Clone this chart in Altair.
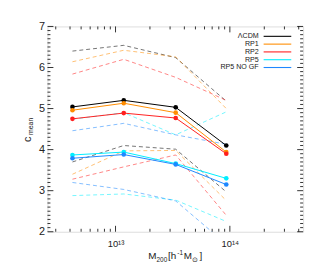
import altair as alt
import pandas as pd

# ---------------- data ----------------
models = ["ΛCDM", "RP1", "RP2", "RP5", "RP5 NO GF"]
colors = ["#000000", "#ff8c00", "#ff1f1f", "#00eeff", "#1e88ff"]
mass = [4.2e12, 1.18e13, 3.36e13, 9.3e13]

lcdm_mean = [5.04, 5.20, 5.03, 4.10]
rp1_mean = [4.96, 5.13, 4.90, 3.94]
rp2_mean = [4.75, 4.89, 4.77, 3.90]
rp5_mean = [3.87, 3.94, 3.66, 3.30]
nogf_mean = [3.79, 3.88, 3.64, 3.15]

lcdm_hi = [6.40, 6.54, 6.24, 5.18]
rp1_hi = [6.14, 6.42, 6.26, 5.00]
rp2_hi = [5.84, 6.20, 5.76, 5.20]
rp5_hi = [4.74, 4.90, 4.36, 4.92]
nogf_hi = [4.46, 4.64, 4.36, 4.13]

lcdm_lo = [3.70, 4.10, 4.01, 2.97]
rp1_lo = [3.40, 3.97, 3.98, 2.76]
rp2_lo = [3.28, 3.58, 3.87, 2.40]
rp5_lo = [2.88, 2.92, 2.77, 2.25]
nogf_lo = [3.20, 3.03, 2.75, 1.70]

y_labels = [2, 3, 4, 5, 6, 7]
x_labels = [1e13, 1e14]

means = [lcdm_mean, rp1_mean, rp2_mean, rp5_mean, nogf_mean]
his = [lcdm_hi, rp1_hi, rp2_hi, rp5_hi, nogf_hi]
los = [lcdm_lo, rp1_lo, rp2_lo, rp5_lo, nogf_lo]

rows_mean, rows_band = [], []
for i, m in enumerate(models):
    for j, x in enumerate(mass):
        rows_mean.append({"model": m, "mass": x, "c": means[i][j], "k": i})
        rows_band.append({"model": m, "mass": x, "c": his[i][j], "series": m + " hi", "k": i})
        rows_band.append({"model": m, "mass": x, "c": los[i][j], "series": m + " lo", "k": i})
df_mean = pd.DataFrame(rows_mean)
df_band = pd.DataFrame(rows_band)

y_minor = [round(2 + 0.1 * k, 2) for k in range(51) if k % 10 != 0]
x_minor = [a * 10 ** e for e in (12, 13, 14) for a in range(2, 10)
           if 2.54e12 < a * 10 ** e < 4.37e14]

W, H = 259, 208
FONT = "Liberation Sans"

xscale = alt.Scale(type="log", domain=[2.54e12, 4.37e14], nice=False)
yscale = alt.Scale(domain=[2, 7], nice=False)
xaxis = alt.Axis(values=x_labels, labelExpr="datum.value < 5e13 ? '10¹³' : '10¹⁴'",
                 ticks=False, domain=False, grid=False, title=None,
                 labelFont=FONT, labelFontSize=9.5, labelPadding=7, labelColor="#222")
yaxis = alt.Axis(values=y_labels, format="d", ticks=False, domain=False, grid=False,
                 title=None, labelFont=FONT, labelFontSize=11, labelPadding=3,
                 labelColor="#222")
X = alt.X("mass:Q", scale=xscale, axis=xaxis)
Y = alt.Y("c:Q", scale=yscale, axis=yaxis)
cscale = alt.Scale(domain=models, range=colors)
C = alt.Color("model:N", scale=cscale, legend=None)

dashed = alt.Chart(df_band).mark_line(strokeWidth=1, strokeDash=[4, 3], opacity=0.55,
                                      clip=True).encode(
    x=X, y=Y, color=C, detail="series:N", order="k:Q")
solid = alt.Chart(df_mean).mark_line(strokeWidth=1, clip=True).encode(
    x=X, y=Y, color=C, detail="model:N")
points = alt.Chart(df_mean).mark_circle(size=22, opacity=1).encode(
    x=X, y=Y, color=C, order="k:Q")

# inward ticks on all four sides
ymaj = pd.DataFrame({"c": y_labels})
ymin = pd.DataFrame({"c": y_minor})
xmaj = pd.DataFrame({"mass": x_labels})
xmin = pd.DataFrame({"mass": x_minor})
tk = dict(color="#000", strokeWidth=0.8)
ticks = [
    alt.Chart(ymaj).mark_rule(**tk).encode(y=Y, x=alt.value(0), x2=alt.value(6)),
    alt.Chart(ymaj).mark_rule(**tk).encode(y=Y, x=alt.value(W), x2=alt.value(W - 6)),
    alt.Chart(ymin).mark_rule(**tk).encode(y=Y, x=alt.value(0), x2=alt.value(3)),
    alt.Chart(ymin).mark_rule(**tk).encode(y=Y, x=alt.value(W), x2=alt.value(W - 3)),
    alt.Chart(xmaj).mark_rule(**tk).encode(x=X, y=alt.value(H), y2=alt.value(H - 6)),
    alt.Chart(xmaj).mark_rule(**tk).encode(x=X, y=alt.value(0), y2=alt.value(6)),
    alt.Chart(xmin).mark_rule(**tk).encode(x=X, y=alt.value(H), y2=alt.value(H - 3)),
    alt.Chart(xmin).mark_rule(**tk).encode(x=X, y=alt.value(0), y2=alt.value(3)),
]

# legend (top right, labels left of line samples)
leg = []
one = pd.DataFrame({"a": [0]})
for i, (m, col) in enumerate(zip(models, colors)):
    yy = 10 + 7.9 * i
    leg.append(alt.Chart(one).mark_text(align="right", baseline="middle", font=FONT,
                                        fontSize=7.2, color="#222").encode(
        x=alt.value(214), y=alt.value(yy), text=alt.value(m)))
    leg.append(alt.Chart(one).mark_rule(color=col, strokeWidth=1.1).encode(
        x=alt.value(219), x2=alt.value(247), y=alt.value(yy)))

# axis titles built from pieces (sub/superscripts)
titles = []
def piece(txt, x, y, size, angle=0, align="left"):
    return alt.Chart(one).mark_text(align=align, baseline="alphabetic", font=FONT,
                                    fontSize=size, angle=angle, color="#222").encode(
        x=alt.value(x), y=alt.value(y), text=alt.value(txt))

titles.append(piece("M", 102, 236, 10))
titles.append(piece("200", 110.5, 238.5, 6.5))
titles.append(piece("[h", 122, 236, 10))
titles.append(piece("-1", 131.5, 232, 6.5))
titles.append(piece("M", 138, 236, 10))
titles.append(piece("⊙", 146.5, 238.5, 7))
titles.append(piece("]", 154, 236, 10))
titles.append(piece("c", -17, 117, 11, angle=270))
titles.append(piece("mean", -14.5, 110, 7, angle=270))

chart = alt.layer(dashed, solid, points, *ticks, *leg, *titles).properties(
    width=W, height=H,
    autosize=alt.AutoSizeParams(type="none"),
    padding={"left": 40, "top": 17, "right": 8, "bottom": 32},
).configure_view(stroke="#000", strokeWidth=1).configure(background="white")

chart.save("out.html", embed_options={"renderer": "svg", "actions": False})
